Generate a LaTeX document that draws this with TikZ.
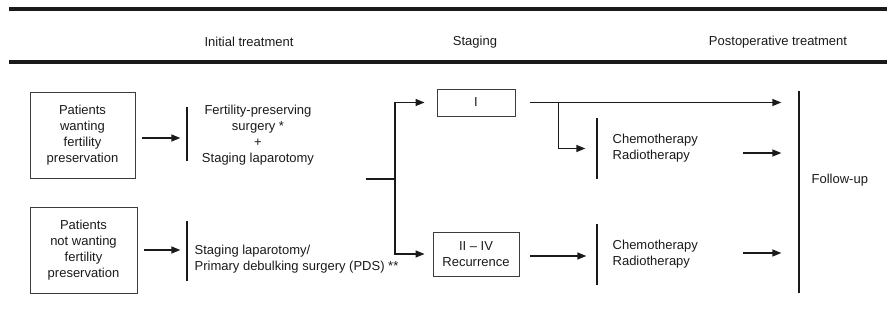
\documentclass[tikz,border=0pt]{standalone}
\usepackage{fontspec}
\setmainfont{Liberation Sans}
\usetikzlibrary{arrows.meta,calc}
\definecolor{ink}{HTML}{1A1A1A}
\begin{document}
\begin{tikzpicture}[x=1pt,y=-1pt,
  font=\fontsize{13}{16}\selectfont, text=ink,
  line width=1.3pt, draw=ink,
  box/.style={draw=ink!85, line width=0.9pt, align=center, inner sep=0pt},
  txt/.style={inner sep=0pt, align=center},
  bar/.style={inner sep=0pt, minimum width=0pt, draw=none},
  arr/.style={-{Triangle[length=9pt,width=7pt]}},
  rule/.style={line width=3.8pt, draw=ink}]
\useasboundingbox (0,0) rectangle (887,324);

% header rules
\coordinate (r1a) at (9,9);  \coordinate (r1b) at (887,9);
\coordinate (r2a) at (9,62); \coordinate (r2b) at (887,62);
\draw[rule] (r1a) -- (r1b);
\draw[rule] (r2a) -- (r2b);
\node[txt] (h1) at (249,42) {Initial treatment};
\node[txt] (h2) at (475,42) {Staging};
\node[txt] (h3) at (778,42) {Postoperative treatment};

% patient boxes
\node[box, minimum width=105pt, minimum height=86pt] (p1) at (82.5,135) {Patients\\wanting\\fertility\\preservation};
\node[box, minimum width=107pt, minimum height=86pt] (p2) at (83.5,250) {Patients\\not wanting\\fertility\\preservation};

% initial treatment bars
\node[bar, minimum height=52pt] (b1) at (187,134) {};
\node[bar, minimum height=58pt] (b2) at (187,251) {};
\draw (b1.north) -- (b1.south);
\draw (b2.north) -- (b2.south);
\node[txt] (t1) at (258,135) {Fertility-preserving\\surgery *\\+\\Staging laparotomy};
\node[txt, align=left, anchor=west] (t2) at (194,259) {Staging laparotomy/\\Primary debulking surgery (PDS) **};

\draw[arr, shorten <=7pt, shorten >=6pt] ([yshift=-3pt]p1.east) -- ([yshift=-3pt]b1.west |- p1.east);
\draw[arr, shorten <=7pt, shorten >=6pt] (p2.east) -- (b2.west |- p2.east);

% staging
\node[box, minimum width=78pt, minimum height=27pt] (s1) at (476,102.5) {I};
\node[box, minimum width=86pt, minimum height=44pt] (s2) at (476,254) {II -- IV\\Recurrence};
\coordinate (m0) at (366,179);
\coordinate (j) at (395,179);
\draw (m0) -- (j);
\draw[arr] (j) |- ([xshift=-12pt]s1.west);
\draw[arr] (j) |- ([xshift=-8pt]s2.west);

% postoperative
\node[bar, minimum height=200pt] (fb) at (799,192) {};
\draw (fb.north) -- (fb.south);
\node[txt, anchor=west] (fu) at (811,180) {Follow-up};

\node[bar, minimum height=59pt] (b3) at (597,148.5) {};
\node[bar, minimum height=59pt] (b4) at (597,254.5) {};
\draw (b3.north) -- (b3.south);
\draw (b4.north) -- (b4.south);
\node[txt, align=left, anchor=west] (c1) at (612,148.5) {Chemotherapy\\Radiotherapy};
\node[txt, align=left, anchor=west] (c2) at (612,254) {Chemotherapy\\Radiotherapy};

\draw[arr, shorten <=15pt, shorten >=17pt] (s1.east) -- (fb.west |- s1.east);
\coordinate (k) at ($(s1.east)+(43,0)$);
\draw[arr] (k) |- ([xshift=-11pt]b3.west);
\draw[arr, shorten <=11pt, shorten >=10pt] ([yshift=-2pt]s2.east) -- ([yshift=-2pt]b4.west |- s2.east);

\coordinate (a3) at (743,153);
\coordinate (a4) at (743,253);
\draw[arr, shorten >=17pt] (a3) -- (fb.west |- a3);
\draw[arr, shorten >=17pt] (a4) -- (fb.west |- a4);
\end{tikzpicture}
\end{document}
